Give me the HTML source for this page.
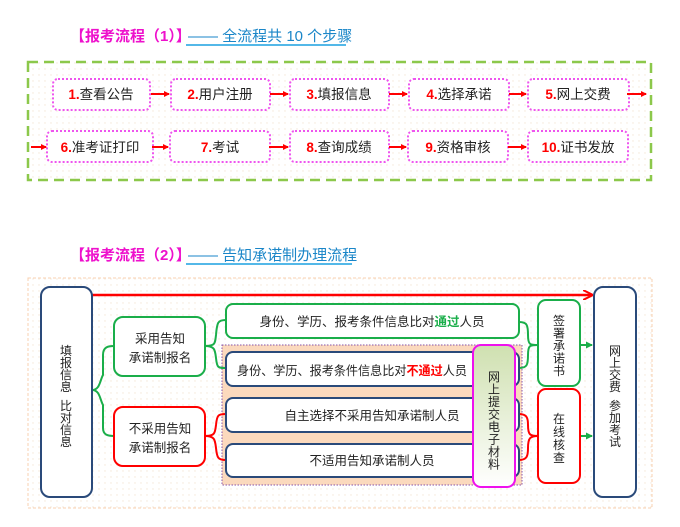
<!DOCTYPE html>
<html><head><meta charset="utf-8"><style>
html,body{margin:0;padding:0;background:#fff;}
svg text{font-family:"Liberation Sans","Noto Sans CJK SC",sans-serif;}
</style></head><body>
<svg width="680" height="522" viewBox="0 0 680 522" xmlns="http://www.w3.org/2000/svg">
<defs>
<pattern id="dots" width="6" height="6" patternUnits="userSpaceOnUse"><circle cx="3" cy="3" r="0.7" fill="#f3e6d6"/></pattern>
<linearGradient id="mg" x1="0" y1="0" x2="0" y2="1"><stop offset="0" stop-color="#cfe0b0"/><stop offset="1" stop-color="#ffffff"/></linearGradient>
<marker id="ar" markerWidth="6" markerHeight="6" refX="5" refY="3" orient="auto" markerUnits="userSpaceOnUse"><path d="M0,0 L6,3 L0,6z" fill="#f00"/></marker>
<marker id="ag" markerWidth="7" markerHeight="7" refX="6" refY="3.5" orient="auto" markerUnits="userSpaceOnUse"><path d="M0,0 L7,3.5 L0,7z" fill="#1aae4a"/></marker>
<marker id="ab" markerWidth="10" markerHeight="10" refX="9" refY="5" orient="auto" markerUnits="userSpaceOnUse"><path d="M0,0 L10,5 L0,10" fill="none" stroke="#f00" stroke-width="2"/></marker>
</defs>
<text x="70" y="41" font-size="15" font-weight="bold" fill="#ee11cc">【报考流程（1）】</text>
<text x="188" y="41" font-size="15" fill="#1a86c8">——  全流程共 10 个步骤</text>
<line x1="186" y1="45" x2="346" y2="45" stroke="#1aa0e0" stroke-width="1.5"/>
<rect x="28" y="62" width="623" height="118" fill="url(#dots)" stroke="#8cc84b" stroke-width="2.5" stroke-dasharray="10,6"/>
<g fill="#fff" stroke="#ee55ee" stroke-width="2" stroke-dasharray="2,2">
<rect x="53" y="79" width="97" height="31" rx="5"/><rect x="171" y="79" width="99" height="31" rx="5"/><rect x="290" y="79" width="99" height="31" rx="5"/><rect x="409" y="79" width="100" height="31" rx="5"/><rect x="528" y="79" width="101" height="31" rx="5"/>
<rect x="47" y="131" width="106" height="31" rx="5"/><rect x="170" y="131" width="100" height="31" rx="5"/><rect x="290" y="131" width="99" height="31" rx="5"/><rect x="408" y="131" width="100" height="31" rx="5"/><rect x="528" y="131" width="100" height="31" rx="5"/>
</g>
<g stroke="#f00" stroke-width="2" marker-end="url(#ar)">
<line x1="151" y1="94" x2="169" y2="94"/><line x1="270" y1="94" x2="288" y2="94"/><line x1="389" y1="94" x2="407" y2="94"/><line x1="509" y1="94" x2="526" y2="94"/><line x1="627" y1="94" x2="646" y2="94"/>
<line x1="31" y1="147" x2="46" y2="147"/><line x1="152" y1="147" x2="168" y2="147"/><line x1="269" y1="147" x2="288" y2="147"/><line x1="389" y1="147" x2="406" y2="147"/><line x1="508" y1="147" x2="526" y2="147"/>
</g>
<g font-size="13.5" text-anchor="middle" fill="#222">
<text x="101" y="99"><tspan fill="#f00" font-weight="bold">1.</tspan>查看公告</text>
<text x="220" y="99"><tspan fill="#f00" font-weight="bold">2.</tspan>用户注册</text>
<text x="339" y="99"><tspan fill="#f00" font-weight="bold">3.</tspan>填报信息</text>
<text x="459" y="99"><tspan fill="#f00" font-weight="bold">4.</tspan>选择承诺</text>
<text x="578" y="99"><tspan fill="#f00" font-weight="bold">5.</tspan>网上交费</text>
<text x="100" y="152"><tspan fill="#f00" font-weight="bold">6.</tspan>准考证打印</text>
<text x="220" y="152"><tspan fill="#f00" font-weight="bold">7.</tspan>考试</text>
<text x="339" y="152"><tspan fill="#f00" font-weight="bold">8.</tspan>查询成绩</text>
<text x="458" y="152"><tspan fill="#f00" font-weight="bold">9.</tspan>资格审核</text>
<text x="578" y="152"><tspan fill="#f00" font-weight="bold">10.</tspan>证书发放</text>
</g>
<text x="70" y="260" font-size="15" font-weight="bold" fill="#ee11cc">【报考流程（2）】</text>
<text x="188" y="260" font-size="15" fill="#1a86c8">——  告知承诺制办理流程</text>
<line x1="186" y1="264" x2="352" y2="264" stroke="#1aa0e0" stroke-width="1.5"/>
<rect x="28" y="278" width="624" height="230" fill="url(#dots)" stroke="#f8d0b0" stroke-width="1" stroke-dasharray="3,2"/>
<rect x="222" y="345" width="300" height="140" fill="#fbd9bd" stroke="#8855aa" stroke-width="1" stroke-dasharray="1.5,1.5"/>
<g fill="none" stroke-width="2">
<path d="M92,390 C100,390 100,380 103,375 L103,355 C103,347 108,346 114,346" stroke="#1aae4a"/>
<path d="M92,390 C100,390 100,400 103,405 L103,428 C103,435 108,436 114,436" stroke="#1aae4a"/>
<path d="M205,346 C215,346 215,344 216,335 C217,322 218,320 226,320" stroke="#1aae4a"/>
<path d="M205,346 C215,346 215,350 216,358 C217,368 218,368 226,368" stroke="#1aae4a"/>
<path d="M205,436 C215,436 215,433 216,425 C217,415 218,414 226,414" stroke="#f00"/>
<path d="M205,436 C215,436 215,440 216,448 C217,458 218,460 226,460" stroke="#f00"/>
<path d="M519,322 C527,322 528,325 528,335 C528,345 530,345 538,345" stroke="#1aae4a"/>
<path d="M519,368 C527,368 528,365 528,355 C528,345 530,345 538,345" stroke="#1aae4a"/>
<path d="M519,414 C527,414 528,418 528,425 C528,435 530,436 538,436" stroke="#f00"/>
<path d="M519,460 C527,460 528,456 528,448 C528,438 530,436 538,436" stroke="#f00"/>
</g>
<line x1="92" y1="295" x2="592" y2="295" stroke="#f00" stroke-width="2.5" marker-end="url(#ab)"/>
<line x1="580" y1="345" x2="592" y2="345" stroke="#1aae4a" stroke-width="2" marker-end="url(#ag)"/>
<line x1="580" y1="436" x2="592" y2="436" stroke="#1aae4a" stroke-width="2" marker-end="url(#ag)"/>
<rect x="41" y="287" width="51" height="210" rx="9" fill="#fff" stroke="#2a4a7a" stroke-width="2"/>
<rect x="114" y="317" width="91" height="59" rx="9" fill="#fff" stroke="#1aae4a" stroke-width="2"/>
<rect x="114" y="407" width="91" height="59" rx="9" fill="#fff" stroke="#f00" stroke-width="2"/>
<rect x="226" y="304" width="293" height="34" rx="7" fill="#fff" stroke="#1aae4a" stroke-width="2"/>
<rect x="226" y="352" width="293" height="34" rx="7" fill="#fff" stroke="#2a4a7a" stroke-width="2"/>
<rect x="226" y="398" width="293" height="34" rx="7" fill="#fff" stroke="#2a4a7a" stroke-width="2"/>
<rect x="226" y="444" width="293" height="33" rx="7" fill="#fff" stroke="#2a4a7a" stroke-width="2"/>
<rect x="473" y="345" width="42" height="142" rx="8" fill="url(#mg)" stroke="#ee11ee" stroke-width="2"/>
<rect x="538" y="300" width="42" height="86" rx="8" fill="#fff" stroke="#1aae4a" stroke-width="2"/>
<rect x="538" y="389" width="42" height="94" rx="8" fill="#fff" stroke="#f00" stroke-width="2"/>
<rect x="594" y="287" width="42" height="210" rx="9" fill="#fff" stroke="#2a4a7a" stroke-width="2"/>
<g font-size="12.5" fill="#222" text-anchor="middle">
<text x="160" y="343">采用告知</text><text x="160" y="362">承诺制报名</text>
<text x="160" y="433">不采用告知</text><text x="160" y="452">承诺制报名</text>
<text x="372" y="326">身份、学历、报考条件信息比对<tspan fill="#1aae4a" font-weight="bold">通过</tspan>人员</text>
<text x="237" y="375" text-anchor="start" textLength="230" lengthAdjust="spacingAndGlyphs">身份、学历、报考条件信息比对<tspan fill="#f00" font-weight="bold">不通过</tspan>人员</text>
<text x="372" y="420">自主选择不采用告知承诺制人员</text>
<text x="372" y="465">不适用告知承诺制人员</text>
</g>
<g font-size="12" fill="#222" text-anchor="middle">
<text x="66" y="355">填</text><text x="66" y="367">报</text><text x="66" y="379">信</text><text x="66" y="391">息</text>
<text x="66" y="410">比</text><text x="66" y="422">对</text><text x="66" y="434">信</text><text x="66" y="446">息</text>
<text x="494" y="381">网</text><text x="494" y="393.5">上</text><text x="494" y="406">提</text><text x="494" y="418.5">交</text><text x="494" y="431">电</text><text x="494" y="443.5">子</text><text x="494" y="456">材</text><text x="494" y="468.5">料</text>
<text x="559" y="325">签</text><text x="559" y="337.5">署</text><text x="559" y="350">承</text><text x="559" y="362.5">诺</text><text x="559" y="375">书</text>
<text x="559" y="423">在</text><text x="559" y="436">线</text><text x="559" y="449">核</text><text x="559" y="462">查</text>
<text x="615" y="355">网</text><text x="615" y="367">上</text><text x="615" y="379">交</text><text x="615" y="391">费</text>
<text x="615" y="410">参</text><text x="615" y="422">加</text><text x="615" y="434">考</text><text x="615" y="446">试</text>
</g>
</svg>
</body></html>
